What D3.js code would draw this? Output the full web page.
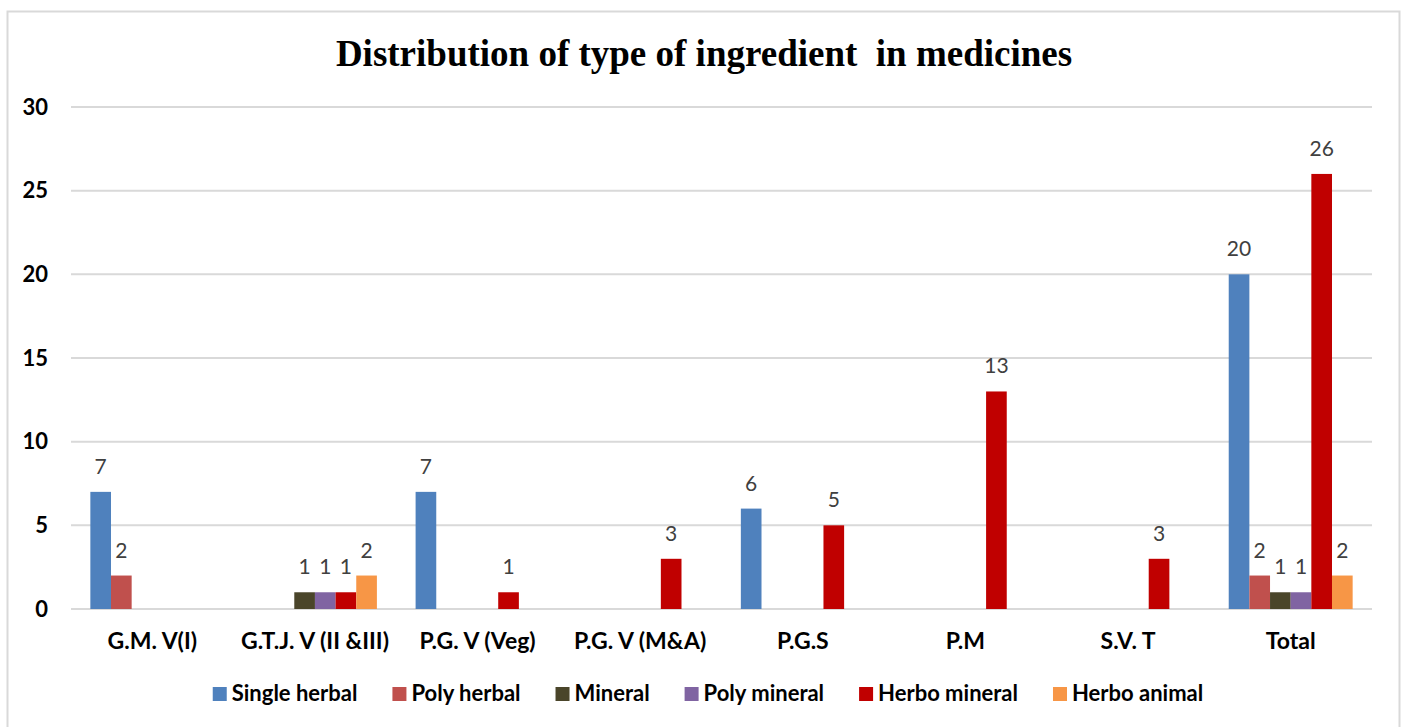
<!DOCTYPE html>
<html>
<head>
<meta charset="utf-8">
<script src="https://cdn.jsdelivr.net/npm/d3@7"></script>
<style>
  body { margin: 0; background: #fff; }
  svg { display: block; }
</style>
</head>
<body>
<div id="chart"></div>
<script>
// chart data (blank cells are null)
const categories = ["G.M. V(I)", "G.T.J. V (II &III)", "P.G. V (Veg)", "P.G. V (M&A)", "P.G.S", "P.M", "S.V. T", "Total"];
const seriesNames = ["Single herbal", "Poly herbal", "Mineral", "Poly mineral", "Herbo mineral", "Herbo animal"];
const singleHerbal = [7, null, 7, null, 6, null, null, 20];
const polyHerbal   = [2, null, null, null, null, null, null, 2];
const mineral      = [null, 1, null, null, null, null, null, 1];
const polyMineral  = [null, 1, null, null, null, null, null, 1];
const herboMineral = [null, 1, 1, 3, 5, 13, 3, 26];
const herboAnimal  = [null, 2, null, null, null, null, null, 2];
const yTicks = [0, 5, 10, 15, 20, 25, 30];
const colors = ["#4F81BD", "#C0504D", "#4A452A", "#8064A2", "#C00000", "#F79646"];

const seriesValues = [singleHerbal, polyHerbal, mineral, polyMineral, herboMineral, herboAnimal];

const width = 1405, height = 727;
const margin = { top: 107, right: 33, bottom: 118, left: 71 };
const uiFont = "Lato, 'Open Sans', sans-serif";

const svg = d3.select("#chart")
  .append("svg")
  .attr("width", width)
  .attr("height", height);

// outer frame
svg.append("rect")
  .attr("x", 7.5).attr("y", 11.5)
  .attr("width", 1392).attr("height", 740)
  .attr("fill", "none")
  .attr("stroke", "#d9d9d9")
  .attr("stroke-width", 2);

// title
svg.append("text")
  .attr("x", 704).attr("y", 66)
  .attr("text-anchor", "middle")
  .style("font-family", "'Liberation Serif', 'Times New Roman', serif")
  .style("font-weight", "bold")
  .style("font-size", "37px")
  .style("white-space", "pre")
  .text("Distribution of type of ingredient  in medicines");

const x0 = d3.scaleBand()
  .domain(categories)
  .range([margin.left, width - margin.right]);

const gap = x0.bandwidth() * 0.119;
const x1 = d3.scaleBand()
  .domain(seriesNames)
  .range([gap, x0.bandwidth() - gap]);

const y = d3.scaleLinear()
  .domain([0, 30])
  .range([height - margin.bottom, margin.top]);

// gridlines
svg.append("g")
  .selectAll("line")
  .data(yTicks)
  .enter()
  .append("line")
  .attr("x1", margin.left).attr("x2", width - margin.right)
  .attr("y1", d => y(d)).attr("y2", d => y(d))
  .attr("stroke", "#d9d9d9")
  .attr("stroke-width", 2);

// y axis labels
const yAxis = svg.append("g")
  .attr("transform", "translate(48,0)")
  .call(d3.axisLeft(y).tickValues(yTicks).tickSize(0).tickPadding(0));
yAxis.select(".domain").remove();
yAxis.selectAll("text")
  .style("font-family", uiFont)
  .style("font-weight", "bold")
  .style("font-size", "22px")
  .attr("fill", "#000");

// x axis labels
const xAxis = svg.append("g")
  .attr("transform", "translate(0," + y(0) + ")")
  .call(d3.axisBottom(x0).tickSize(0).tickPadding(24));
xAxis.select(".domain").remove();
xAxis.selectAll("text")
  .style("font-family", uiFont)
  .style("font-weight", "bold")
  .style("font-size", "23px")
  .attr("fill", "#000");

// bars
const flat = [];
categories.forEach((c, i) => {
  seriesNames.forEach((s, j) => {
    const v = seriesValues[j][i];
    if (v != null) flat.push({ cat: c, series: s, value: v, color: colors[j] });
  });
});

svg.append("g")
  .selectAll("rect")
  .data(flat)
  .enter()
  .append("rect")
  .attr("x", d => x0(d.cat) + x1(d.series))
  .attr("y", d => y(d.value))
  .attr("width", x1.bandwidth())
  .attr("height", d => y(0) - y(d.value))
  .attr("fill", d => d.color);

// value labels
svg.append("g")
  .selectAll("text")
  .data(flat)
  .enter()
  .append("text")
  .attr("x", d => x0(d.cat) + x1(d.series) + x1.bandwidth() / 2)
  .attr("y", d => y(d.value) - 18)
  .attr("text-anchor", "middle")
  .style("font-family", uiFont)
  .style("font-size", "21px")
  .attr("fill", "#404040")
  .text(d => d.value);

// legend, laid out from measured text widths and centred
const legend = svg.append("g");
const items = legend.selectAll("g")
  .data(seriesNames)
  .enter()
  .append("g");
items.append("rect")
  .attr("width", 14).attr("height", 14)
  .attr("y", 687)
  .attr("fill", (d, i) => colors[i]);
items.append("text")
  .attr("x", 19)
  .attr("y", 701)
  .style("font-family", uiFont)
  .style("font-weight", "bold")
  .style("font-size", "22px")
  .attr("fill", "#000")
  .text(d => d);

let offset = 0;
const positions = [];
items.each(function () {
  const w = d3.select(this).select("text").node().getComputedTextLength();
  positions.push(offset);
  offset += 19 + w + 35;
});
const total = offset - 35;
const start = 708 - total / 2;
items.attr("transform", (d, i) => "translate(" + (start + positions[i]) + ",0)");
</script>
</body>
</html>
